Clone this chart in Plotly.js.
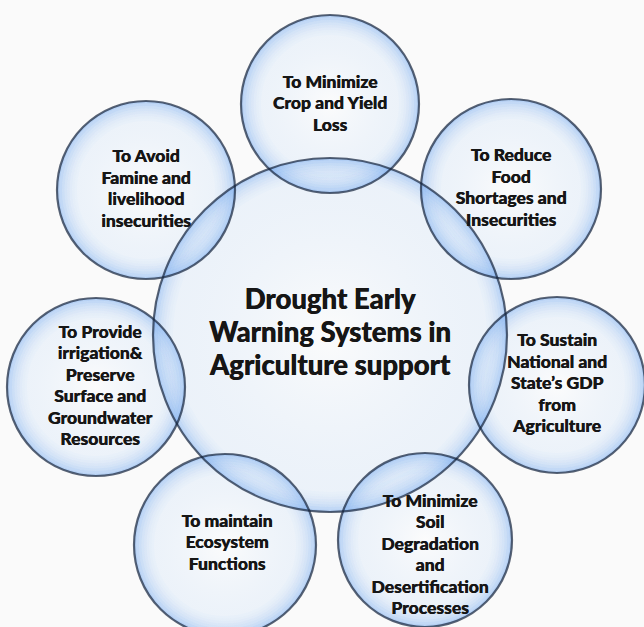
<!DOCTYPE html>
<html><head><meta charset="utf-8">
<script src="https://cdn.plot.ly/plotly-3.0.1.min.js"></script>
<style>html,body{margin:0;padding:0;background:#fafafa}</style>
</head><body><div id="chart" style="width:644px;height:627px"></div>
<script>
// ---- content ----
const centerLabel = ["Drought Early", "Warning Systems in", "Agriculture support"];
const goalLabels = [
  ["To Minimize", "Crop and Yield", "Loss"],
  ["To Reduce", "Food", "Shortages and", "Insecurities"],
  ["To Sustain", "National and", "State\u2019s GDP", "from", "Agriculture"],
  ["To Minimize", "Soil", "Degradation", "and", "Desertification", "Processes"],
  ["To maintain", "Ecosystem", "Functions"],
  ["To Provide", "irrigation&", "Preserve", "Surface and", "Groundwater", "Resources"],
  ["To Avoid", "Famine and", "livelihood", "insecurities"]
];

// ---- diagram geometry (pixel space) ----
const hubX = 330, hubY = 335, hubR = 177;
const nodeX = [330, 511, 557, 425, 225, 96, 146];
const nodeY = [104, 189, 385, 540, 545, 387, 190];
const nodeR = [89, 90, 88, 87, 91, 89, 89];
const textDX = [0, 0, 0, 5, 2, 4, 0];
const textDY = [1, 0, 0, 16, -1, 0, 0];

const circX = [hubX].concat(nodeX);
const circY = [hubY].concat(nodeY);
const circR = [hubR].concat(nodeR);

// bubble body: faint radial gradient
const body = {
  type: 'scatter', mode: 'markers', x: circX, y: circY, cliponaxis: false, hoverinfo: 'skip',
  marker: {
    size: circR.map(r => 2 * r), sizemode: 'diameter',
    color: 'rgba(165,202,245,0.25)',
    gradient: {type: 'radial', color: 'rgba(255,255,255,0.5)'},
    line: {width: 0}
  }
};

// bubble rim shading: concentric translucent rings just inside each edge
const ringAlpha = [0.58, 0.45, 0.34, 0.25, 0.18, 0.12, 0.07, 0.035];
const ringW = 2.5;
const rx = [], ry = [], rs = [], rc = [];
circR.forEach((r, k) => {
  ringAlpha.forEach((a, j) => {
    rx.push(circX[k]); ry.push(circY[k]);
    rs.push(2 * (r - ringW / 2 - ringW * j));
    rc.push('rgba(105,162,238,' + a + ')');
  });
});
const rims = {
  type: 'scatter', mode: 'markers', x: rx, y: ry, cliponaxis: false, hoverinfo: 'skip',
  marker: {symbol: 'circle-open', size: rs, sizemode: 'diameter',
           color: rc, line: {color: rc, width: ringW}}
};

// dark outlines
const outlines = {
  type: 'scatter', mode: 'markers', x: circX, y: circY, cliponaxis: false, hoverinfo: 'skip',
  marker: {symbol: 'circle-open', size: circR.map(r => 2 * r), sizemode: 'diameter',
           color: '#14223a', line: {color: '#14223a', width: 2.2}}
};

function lineTrace(lines, cx, cy, lh, size) {
  const n = lines.length;
  return {
    type: 'scatter', mode: 'text', cliponaxis: false, hoverinfo: 'skip',
    x: lines.map(() => cx),
    y: lines.map((_, i) => cy + (i - (n - 1) / 2) * lh),
    text: lines,
    textposition: 'middle center',
    textfont: {family: 'Lato, sans-serif', size: size, color: '#161616', weight: 900,
               shadow: '0.4px 0 0 #161616'}
  };
}

const traces = [body, rims, outlines, lineTrace(centerLabel, hubX, hubY, 33, 27.5)];
goalLabels.forEach((lines, k) => {
  traces.push(lineTrace(lines, nodeX[k] + textDX[k], nodeY[k] + textDY[k], 21.5, 17.5));
});

const layout = {
  width: 644, height: 627,
  margin: {l: 0, r: 0, t: 0, b: 0},
  paper_bgcolor: '#fafafa', plot_bgcolor: '#fafafa',
  showlegend: false, hovermode: false,
  xaxis: {range: [0, 644], visible: false, fixedrange: true},
  yaxis: {range: [627, 0], visible: false, fixedrange: true}
};

Plotly.newPlot('chart', traces, layout, {staticPlot: true, displayModeBar: false});
</script>
</body></html>
